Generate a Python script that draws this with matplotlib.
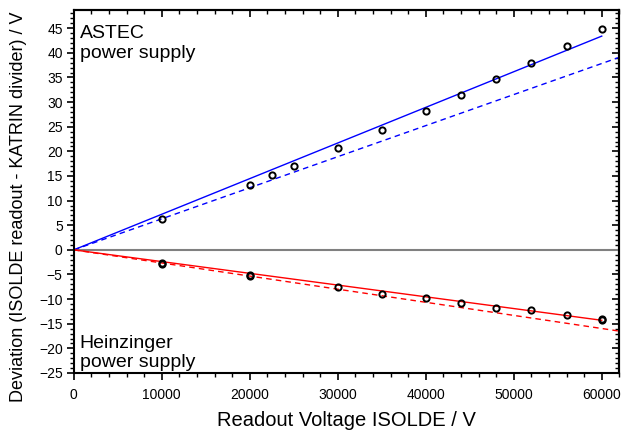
import matplotlib
matplotlib.use("Agg")
import matplotlib.pyplot as plt
from matplotlib.ticker import MultipleLocator

plt.rcParams['font.family'] = ['Liberation Sans', 'DejaVu Sans']

# ASTEC data
astec_x = [10000, 20000, 22500, 25000, 30000, 35000, 40000, 44000, 48000, 52000, 56000, 60000]
astec_y = [6.3, 13.25, 15.3, 17.1, 20.7, 24.4, 28.2, 31.4, 34.7, 38.0, 41.4, 44.9]
astec_fit_x = [0, 60000]
astec_fit_y = [0, 43.4]
astec_dash_x = [0, 62000]
astec_dash_y = [0, 39.1]

# Heinzinger data
heinz_x = [10000, 10000, 20000, 20000, 30000, 35000, 40000, 44000, 48000, 52000, 56000, 60000, 60000]
heinz_y = [-2.7, -2.9, -5.2, -5.4, -7.5, -9.0, -9.8, -10.8, -11.8, -12.3, -13.2, -14.0, -14.2]
heinz_fit_x = [0, 60000]
heinz_fit_y = [0, -14.3]
heinz_dash_x = [0, 62000]
heinz_dash_y = [0, -16.5]

fig = plt.figure(figsize=(6.24, 4.30), dpi=100)
ax = fig.add_axes([0.1183, 0.1326, 0.8742, 0.8441])

ax.axhline(0, color='#808080', lw=1.5, zorder=1)
ax.plot(astec_fit_x, astec_fit_y, color='#0000ff', lw=1.0, zorder=2)
ax.plot(astec_dash_x, astec_dash_y, color='#0000ff', lw=1.0, ls=(0, (4, 3)), zorder=2)
ax.plot(heinz_fit_x, heinz_fit_y, color='#ff0000', lw=1.0, zorder=2)
ax.plot(heinz_dash_x, heinz_dash_y, color='#ff0000', lw=1.0, ls=(0, (4, 3)), zorder=2)
ax.plot(astec_x, astec_y, ls='none', marker='o', ms=4.5, mfc='none', mec='black', mew=1.4, zorder=3)
ax.plot(heinz_x, heinz_y, ls='none', marker='o', ms=4.5, mfc='none', mec='black', mew=1.4, zorder=3)

ax.set_xlim(0, 62000)
ax.set_ylim(-25, 48.7)
ax.xaxis.set_major_locator(MultipleLocator(10000))
ax.xaxis.set_minor_locator(MultipleLocator(2000))
ax.yaxis.set_major_locator(MultipleLocator(5))
ax.yaxis.set_minor_locator(MultipleLocator(1))
ax.tick_params(which='major', direction='out', length=5, width=1.2, labelsize=10, pad=3)
ax.tick_params(axis='x', which='major', pad=6)
ax.tick_params(which='minor', direction='out', length=3, width=1.0)
for s in ax.spines.values():
    s.set_linewidth(1.5)

top = ax.secondary_xaxis('top')
top.xaxis.set_major_locator(MultipleLocator(10000))
top.xaxis.set_minor_locator(MultipleLocator(2000))
top.tick_params(which='major', direction='in', length=5, width=1.2, labeltop=False)
top.tick_params(which='minor', direction='in', length=3, width=1.0)
right = ax.secondary_yaxis('right')
right.yaxis.set_major_locator(MultipleLocator(5))
right.yaxis.set_minor_locator(MultipleLocator(1))
right.tick_params(which='major', direction='in', length=5, width=1.2, labelright=False)
right.tick_params(which='minor', direction='in', length=3, width=1.0)
top.spines['top'].set_linewidth(1.5)
right.spines['right'].set_linewidth(1.5)

ax.set_xlabel('Readout Voltage ISOLDE / V', fontsize=14.5, labelpad=6)
ax.set_ylabel('Deviation (ISOLDE readout - KATRIN divider) / V', fontsize=13)
ax.yaxis.set_label_coords(-0.0858, 0.457)

ax.text(0.011, 0.958, 'ASTEC\npower supply', transform=ax.transAxes, fontsize=14,
        va='top', ha='left', linespacing=1.18)
ax.text(0.011, 0.005, 'Heinzinger\npower supply', transform=ax.transAxes, fontsize=14,
        va='bottom', ha='left', linespacing=1.18)

fig.savefig('out.png', dpi=100)
